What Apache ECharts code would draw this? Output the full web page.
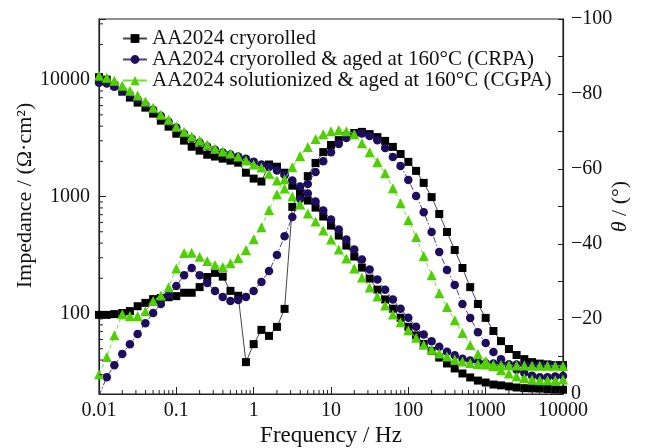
<!DOCTYPE html>
<html>
<head>
<meta charset="utf-8">
<script src="https://cdn.jsdelivr.net/npm/echarts@6/dist/echarts.min.js"></script>
<style>
  html, body { margin: 0; padding: 0; background: #fff; }
  #chart { width: 645px; height: 448px; }
</style>
</head>
<body>
<div id="chart"></div>
<script>
// frequencies (Hz), 10 points per decade
var freq = [
  0.01, 0.0126, 0.0158, 0.02, 0.0251, 0.0316, 0.0398, 0.0501, 0.0631, 0.0794,
  0.1, 0.126, 0.158, 0.2, 0.251, 0.316, 0.398, 0.501, 0.631, 0.794,
  1, 1.26, 1.58, 2, 2.51, 3.16, 3.98, 5.01, 6.31, 7.94,
  10, 12.6, 15.8, 20, 25.1, 31.6, 39.8, 50.1, 63.1, 79.4,
  100, 126, 158, 200, 251, 316, 398, 501, 631, 794,
  1000, 1260, 1580, 2000, 2510, 3160, 3980, 5010, 6310, 7940, 10000
];

var names = [
  'AA2024 cryorolled',
  'AA2024 cryorolled & aged at 160°C (CRPA)',
  'AA2024 solutionized & aged at 160°C (CGPA)'
];

// impedance |Z| (Ω·cm²)
var zCR = [
  10500, 10000, 8890, 7890, 7020, 6360, 5760, 5120, 4460, 3960,
  3450, 3010, 2670, 2470, 2280, 2200, 2110, 2030, 1950, 1600,
  1425, 1345, 1880, 1800, 1600, 1240, 1040, 925, 805, 675,
  565, 464, 381, 307, 247, 199, 160, 132, 110, 92,
  77, 65, 55, 48, 42, 37.4, 33.9, 30.7, 28.4, 26.7,
  25.7, 24.7, 24.3, 23.8, 23.3, 23.0, 22.9, 22.8, 22.6, 22.4, 22.3
];
var zCRPA = [
  9420, 9250, 8710, 8050, 7450, 6750, 6110, 5540, 4920, 4370,
  3890, 3450, 3130, 2900, 2680, 2520, 2380, 2290, 2200, 2110,
  1990, 1880, 1790, 1670, 1540, 1370, 1220, 1060, 906, 759,
  636, 522, 429, 352, 290, 238, 195, 160, 132, 110,
  92, 77, 66, 58, 52, 47, 44, 41, 39.6, 38.5,
  37.7, 37.4, 37.0, 36.8, 36.6, 36.4, 36.3, 36.1, 36.0, 35.9, 35.8
];
var zCGPA = [
  10800, 10400, 9790, 8880, 8050, 7300, 6490, 5760, 5020, 4550,
  3960, 3590, 3260, 3010, 2780, 2570, 2430, 2330, 2200, 2030,
  1880, 1770, 1570, 1370, 1170, 1000, 855, 716, 611, 512,
  429, 352, 295, 243, 203, 167, 140, 117, 98, 84,
  72, 62, 54, 49, 45.5, 42.9, 40.4, 38.9, 37.8, 37.0,
  36.6, 36.4, 36.2, 36.1, 36.0, 35.9, 35.8, 35.8, 35.7, 35.7, 35.6
];

// phase angle θ (°)
var pCR = [
  -21.1, -21.1, -21.3, -21.6, -22.1, -23.4, -24.3, -25.3, -25.6, -25.8,
  -26.1, -27.0, -27.0, -28.5, -31.2, -32.3, -31.3, -27.5, -26.2, -8.5,
  -13.3, -17.1, -15.5, -17.9, -22.7, -49.9, -54.4, -58.1, -61.6, -64.5,
  -66.4, -67.7, -68.8, -69.6, -69.9, -69.3, -68.5, -67.5, -65.9, -64.0,
  -61.9, -59.5, -56.3, -52.5, -48.0, -43.2, -38.4, -33.6, -28.5, -24.0,
  -20.3, -16.8, -14.1, -12.0, -10.4, -9.3, -8.5, -8.1, -7.9, -7.7, -7.7
];
var pCRPA = [
  0.5, -4.5, -7.7, -10.7, -13.3, -16.0, -18.9, -21.6, -24.0, -26.4,
  -28.8, -31.7, -33.6, -31.7, -29.6, -27.5, -25.9, -24.8, -25.1, -25.9,
  -27.5, -29.9, -32.8, -37.1, -42.1, -47.2, -52.0, -56.0, -59.2, -62.1,
  -64.5, -66.7, -68.3, -69.3, -69.5, -68.8, -67.7, -65.6, -63.2, -60.8,
  -57.1, -52.8, -48.5, -43.2, -37.9, -33.1, -29.1, -24.0, -20.3, -16.5,
  -13.6, -11.2, -9.3, -7.7, -6.5, -5.6, -4.9, -4.5, -4.5, -4.7, -4.8
];
var pCGPA = [
  -5.3, -9.9, -15.7, -21.3, -20.8, -20.8, -22.1, -24.8, -26.3, -28.5,
  -33.5, -37.6, -37.7, -36.6, -35.5, -34.4, -33.9, -34.9, -36.3, -38.4,
  -41.3, -44.5, -49.1, -53.3, -57.3, -60.5, -63.5, -65.9, -68.0, -69.3,
  -70.1, -70.4, -70.1, -69.3, -66.9, -64.5, -61.9, -58.9, -54.9, -50.9,
  -46.4, -41.9, -36.8, -31.7, -26.9, -23.2, -19.7, -16.3, -13.1, -10.7,
  -8.8, -7.5, -6.4, -5.5, -4.7, -4.3, -3.9, -3.7, -3.7, -3.7, -3.9
];

var xTickLabels = ['0.01', '0.1', '1', '10', '100', '1000', '10000'];
var zTickLabels = ['100', '1000', '10000'];

var FONT = 'Liberation Serif';
var colors = ['#000000', '#1e0d5e', '#4fd000'];
var lineColors = ['#444444', '#4a3d8a', '#6ee03a'];
var dashes = ['solid', [6, 2, 1.5, 2], [4, 3]];
var symbols = ['rect', 'circle', 'triangle'];
var sizes = [8, 8.5, 10];

// log minor tick positions (2..9 per decade)
var xMinor = [], yMinor = [];
for (var e = -2; e < 4; e++) {
  for (var m = 2; m < 10; m++) xMinor.push(m * Math.pow(10, e));
}
for (var e2 = 1; e2 < 5; e2++) {
  for (var m2 = 2; m2 < 10; m2++) {
    var v = m2 * Math.pow(10, e2);
    if (v > 20 && v < 33000) yMinor.push(v);
  }
}

function pairs(ys) {
  return freq.map(function (f, i) { return [f, ys[i]]; });
}

function mkSeries(idx, ys, yAxisIndex) {
  return {
    name: names[idx],
    type: 'line',
    yAxisIndex: yAxisIndex,
    data: pairs(ys),
    symbol: symbols[idx],
    symbolSize: sizes[idx],
    itemStyle: { color: colors[idx] },
    lineStyle: { color: lineColors[idx], width: 1, type: dashes[idx] },
    clip: true,
    z: 2 + idx
  };
}

function minorTicks(values, dir) {
  return {
    type: 'custom',
    silent: true,
    xAxisIndex: 0,
    yAxisIndex: 0,
    z: 10,
    clip: false,
    data: values.map(function (v) { return dir === 'x' ? [v, 100] : [1, v]; }),
    renderItem: function (params, api) {
      var cs = params.coordSys;
      var p = api.coord([api.value(0), api.value(1)]);
      var shape = dir === 'x'
        ? { x1: p[0], y1: cs.y + cs.height, x2: p[0], y2: cs.y + cs.height - 4 }
        : { x1: cs.x, y1: p[1], x2: cs.x + 4, y2: p[1] };
      return { type: 'line', shape: shape, style: { stroke: '#222', lineWidth: 1 } };
    }
  };
}

function isDecade(v, labels) {
  return labels.indexOf(String(+Number(v).toPrecision(6))) >= 0;
}

var myChart = echarts.init(document.getElementById('chart'));

var option = {
  animation: false,
  textStyle: { fontFamily: FONT, color: '#111' },
  grid: {
    left: 99, right: 82, top: 19, bottom: 54,
    outerBoundsMode: 'none', containLabel: false,
    show: true, borderColor: '#222', borderWidth: 1.2
  },
  legend: {
    data: names,
    orient: 'vertical',
    left: 117,
    top: 23,
    itemGap: 0,
    itemWidth: 24,
    itemHeight: 11,
    textStyle: { fontFamily: FONT, fontSize: 21, color: '#111', lineHeight: 19.5 },
    lineStyle: { type: 'solid' }
  },
  xAxis: {
    type: 'log',
    logBase: 10,
    min: 0.01,
    max: 10000,
    name: 'Frequency / Hz',
    nameLocation: 'middle',
    nameGap: 30,
    nameMoveOverlap: false,
    nameTextStyle: { fontFamily: FONT, fontSize: 23, color: '#111' },
    axisLine: { lineStyle: { color: '#222', width: 1.2 } },
    axisTick: { inside: true, length: 7, lineStyle: { color: '#222' } },
    axisLabel: {
      fontFamily: FONT, fontSize: 20, color: '#111', margin: 7,
      formatter: function (v) { return isDecade(v, xTickLabels) ? String(+Number(v).toPrecision(6)) : ''; }
    },
    splitLine: { show: false }
  },
  yAxis: [{
    type: 'log',
    logBase: 10,
    min: 20.5,
    max: 33000,
    position: 'left',
    name: 'Impedance / (Ω·cm²)',
    nameLocation: 'middle',
    nameGap: 63,
    nameMoveOverlap: false,
    nameRotate: 90,
    nameTextStyle: { fontFamily: FONT, fontSize: 22, color: '#111', padding: [0, 0, 0, 22] },
    axisLine: { show: true, lineStyle: { color: '#222', width: 1.2 } },
    axisTick: { inside: true, length: 7, lineStyle: { color: '#222' } },
    axisLabel: {
      fontFamily: FONT, fontSize: 20, color: '#111', margin: 9,
      formatter: function (v) { return isDecade(v, zTickLabels) ? String(+Number(v).toPrecision(6)) : ''; }
    },
    splitLine: { show: false }
  }, {
    type: 'value',
    min: -100,
    max: 0,
    interval: 20,
    inverse: true,
    position: 'right',
    name: '{i|θ} / (°)',
    nameLocation: 'middle',
    nameGap: 46,
    nameMoveOverlap: false,
    nameRotate: 90,
    nameTextStyle: {
      fontFamily: FONT, fontSize: 22, color: '#111',
      rich: { i: { fontFamily: FONT, fontSize: 22, fontStyle: 'italic', color: '#111' } }
    },
    axisLine: { show: true, lineStyle: { color: '#222', width: 1.2 } },
    axisTick: { inside: true, length: 5, lineStyle: { color: '#222' } },
    minorTick: { show: true, splitNumber: 2, length: 5, lineStyle: { color: '#222' } },
    axisLabel: {
      fontFamily: FONT, fontSize: 20, color: '#111', margin: 8,
      formatter: function (v) { return v < 0 ? '\u2212' + (-v) : String(v); }
    },
    splitLine: { show: false }
  }],
  series: [
    mkSeries(0, zCR, 0), mkSeries(0, pCR, 1),
    mkSeries(1, zCRPA, 0), mkSeries(1, pCRPA, 1),
    mkSeries(2, zCGPA, 0), mkSeries(2, pCGPA, 1),
    minorTicks(xMinor, 'x'),
    minorTicks(yMinor, 'y')
  ]
};

myChart.setOption(option, true);
</script>
</body>
</html>
